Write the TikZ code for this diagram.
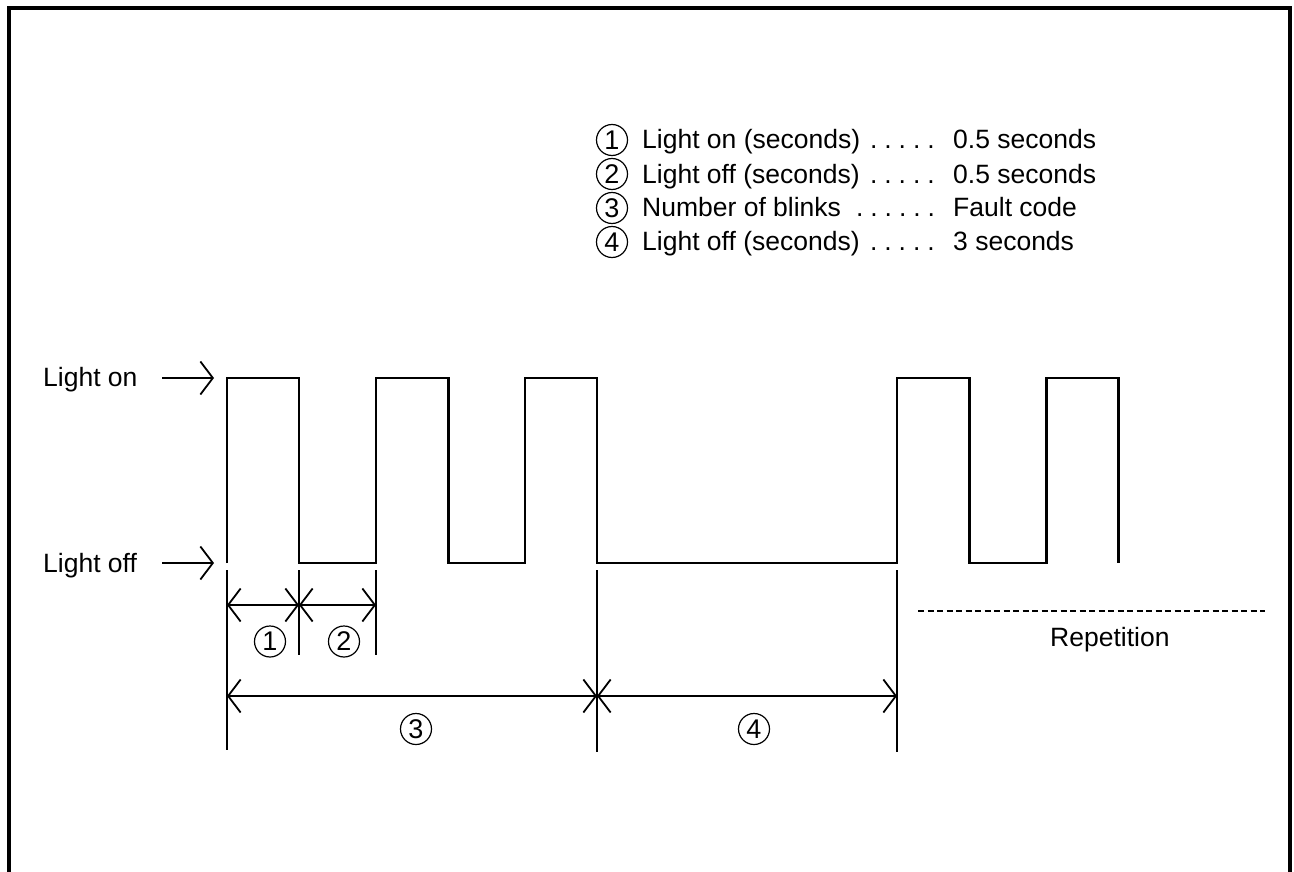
\documentclass[tikz,border=0pt]{standalone}
\usepackage{fontspec}
\setmainfont{Liberation Sans}
\usetikzlibrary{arrows.meta}
\newcommand{\dotrowfive}{.\kern6.9pt.\kern6.9pt.\kern6.9pt.\kern6.9pt.}
\newcommand{\dotrowsix}{.\kern6.9pt.\kern6.9pt.\kern6.9pt.\kern6.9pt.\kern6.9pt.}
\begin{document}
\begin{tikzpicture}[x=1pt,y=-1pt,
  wave/.style={line width=2.4pt, line join=miter, line cap=butt},
  ext/.style={line width=1.2pt},
  barb/.tip={Straight Barb[length=12.5pt,width=33pt,line width=1.8pt]},
  dimarr/.style={line width=1.3pt, barb-barb},
  lblarr/.style={line width=1.4pt, -barb},
  txt/.style={anchor=base west, inner sep=0pt, font=\fontsize{26.5}{32}\selectfont},
  cnum/.style={circle, draw, line width=1.2pt, minimum size=31pt, inner sep=0pt, font=\fontsize{27}{27}\selectfont}
]
\useasboundingbox (0,0) rectangle (1294,872);
\fill[white] (0,0) rectangle (1294,872);
% frame
\draw[line width=3.7pt, line join=miter] (9.3,872) -- (9.3,8) -- (1290,8) -- (1290,872);

% legend
\node[cnum] (c1) at (612,140) {1};
\node[txt] (l1) at (642,149) {Light on (seconds)};
\node[txt] (d1) at (870,149) {\dotrowfive};
\node[txt] (v1) at (953,149) {0.5 seconds};
\node[cnum] (c2) at (612,174) {2};
\node[txt] (l2) at (642,183) {Light off (seconds)};
\node[txt] (d2) at (870,183) {\dotrowfive};
\node[txt] (v2) at (953,183) {0.5 seconds};
\node[cnum] (c3) at (612,208) {3};
\node[txt] (l3) at (642,217) {Number of blinks};
\node[txt] (d3) at (856,217) {\dotrowsix};
\node[txt] (v3) at (953,217) {Fault code};
\node[cnum] (c4) at (612,242) {4};
\node[txt] (l4) at (642,251) {Light off (seconds)};
\node[txt] (d4) at (870,251) {\dotrowfive};
\node[txt] (v4) at (953,251) {3 seconds};

% level labels
\node[txt] (lon) at (43,386) {Light on};
\node[txt] (loff) at (43,572) {Light off};
\coordinate (on0) at (162,378);
\coordinate (on1) at (214,378);
\coordinate (off0) at (162,563);
\coordinate (off1) at (214,563);
\draw[lblarr] (on0) -- (on1);
\draw[lblarr] (off0) -- (off1);

% waveform
\draw[wave] (227,563) -- (227,378) -- (299,378) -- (299,563) -- (376,563) -- (376,378)
  -- (448.5,378) -- (448.5,563) -- (525,563) -- (525,378) -- (597,378) -- (597,563)
  -- (897,563) -- (897,378) -- (969.5,378) -- (969.5,563) -- (1046.5,563) -- (1046.5,378)
  -- (1118.5,378) -- (1118.5,563);

% extension lines
\coordinate (e1t) at (227,570); \coordinate (e1b) at (227,750);
\coordinate (e2t) at (299,570); \coordinate (e2b) at (299,655);
\coordinate (e3t) at (376,570); \coordinate (e3b) at (376,655);
\coordinate (e4t) at (597,570); \coordinate (e4b) at (597,752);
\coordinate (e5t) at (897,570); \coordinate (e5b) at (897,752);
\draw[ext] (e1t) -- (e1b);
\draw[ext] (e2t) -- (e2b);
\draw[ext] (e3t) -- (e3b);
\draw[ext] (e4t) -- (e4b);
\draw[ext] (e5t) -- (e5b);

% dimension lines
\coordinate (a1) at (227,605); \coordinate (a2) at (299,605); \coordinate (a3) at (376,605);
\coordinate (b1) at (227,696); \coordinate (b2) at (597,696); \coordinate (b3) at (897,696);
\draw[dimarr] (a1) -- (a2);
\draw[dimarr] (a2) -- (a3);
\draw[dimarr] (b1) -- (b2);
\draw[dimarr] (b2) -- (b3);

\node[cnum] (n1) at (270,641.5) {1};
\node[cnum] (n2) at (344,641.5) {2};
\node[cnum] (n3) at (416,729) {3};
\node[cnum] (n4) at (754,729) {4};

% repetition
\coordinate (r0) at (918,611);
\coordinate (r1) at (1265,611);
\draw[line width=1.5pt, dash pattern=on 6pt off 3.5pt] (r0) -- (r1);
\node[txt] (rep) at (1050,646) {Repetition};
\end{tikzpicture}
\end{document}
